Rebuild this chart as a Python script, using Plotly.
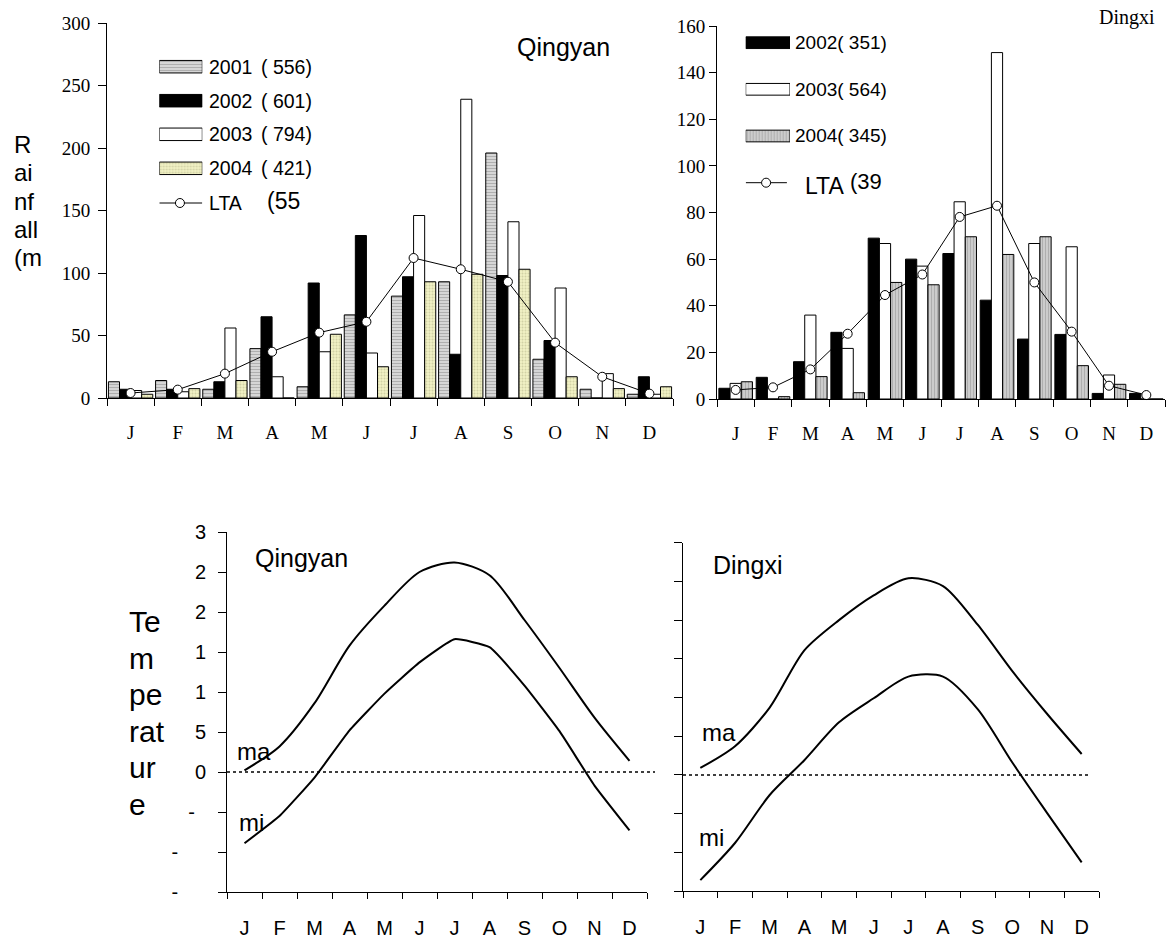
import plotly.graph_objects as go

W, H = 1173, 942

months = ["J", "F", "M", "A", "M", "J", "J", "A", "S", "O", "N", "D"]
mid = [i + 0.5 for i in range(12)]

# Monthly rainfall (mm), Qingyan
qy_2001 = [13, 14, 7, 39.5, 9, 66.5, 81.5, 93, 196, 31, 7, 3]
qy_2002 = [7, 7, 13, 65, 92, 130, 97, 35, 98, 46, 0, 17]
qy_2003 = [6, 5, 56, 17, 37, 36, 146, 239, 141, 88, 19.5, 3]
qy_2004 = [3, 7.5, 14, 0, 51, 25, 93, 99, 103, 17, 7.5, 9]
qy_lta = [4, 6.7, 19.5, 37, 52.3, 61, 112, 103, 93, 44.3, 17, 3.5]

# Monthly rainfall (mm), Dingxi
dx_2002 = [4.6, 9.3, 16, 28.6, 69, 60, 62.4, 42.4, 25.7, 27.7, 2.4, 2.4]
dx_2003 = [6.7, 0, 36, 21.7, 66.7, 57, 84.6, 148.6, 66.7, 65.3, 10.3, 0]
dx_2004 = [7.4, 1, 9.6, 2.7, 50, 49, 69.6, 62, 69.6, 14.3, 6.3, 0]
dx_lta = [3.9, 5, 12.7, 28, 44.6, 53.4, 78.1, 82.9, 50, 28.9, 5.7, 1.7]

# Monthly mean maximum / minimum temperature (deg C)
qy_tmax = [0.2, 3.2, 8.6, 15.8, 20.8, 25.0, 26.2, 24.6, 19.0, 13.0, 6.8, 1.4]
qy_tmin = [-8.9, -5.5, -0.7, 5.2, 9.8, 13.7, 16.6, 15.6, 10.8, 5.1, -1.7, -7.3]
dx_tmax = [0.9, 3.7, 8.7, 16.1, 20.0, 23.2, 25.4, 24.4, 19.4, 13.4, 7.9, 2.7]
dx_tmin = [-13.6, -8.8, -2.6, 1.9, 6.8, 9.9, 12.7, 12.7, 8.5, 1.6, -4.9, -11.3]

temp_ticks = [-15, -10, -5, 0, 5, 10, 15, 20, 25, 30]
temp_ticktext = ["-\u00a0\u00a0\u00a0\u00a0\u00a0", "-\u00a0\u00a0\u00a0\u00a0\u00a0", "-\u00a0\u00a0",
                 "0", "5", "1", "1", "2", "2", "3"]

SERIF = "Liberation Serif"
SANS = "Liberation Sans"


def px_x(p):
    return p / W


def px_y(p):
    return 1 - p / H


EDGE = dict(color="black", width=1)
STY = {
    "2001": dict(color="#c8c8c8", line=EDGE,
                 pattern=dict(shape="-", bgcolor="#e2e2e2", fgcolor="#7c7c7c", size=3, solidity=0.5)),
    "2002": dict(color="black", line=EDGE),
    "2003": dict(color="white", line=EDGE),
    "2004q": dict(color="#eeeec0", line=EDGE,
                  pattern=dict(shape=".", bgcolor="#f0f0c4", fgcolor="#b4b486", size=3, solidity=0.35)),
    "2004d": dict(color="#c8c8c8", line=EDGE,
                  pattern=dict(shape="|", bgcolor="#d6d6d6", fgcolor="#868686", size=3, solidity=0.5)),
}
LTA_MARKER = dict(symbol="circle", size=9, color="white", line=dict(color="black", width=1))

fig = go.Figure()

# ---- Qingyan rainfall ----
qw = 0.235
for vals, key, off in [(qy_2001, "2001", -0.47), (qy_2002, "2002", -0.235),
                       (qy_2003, "2003", 0.0), (qy_2004, "2004q", 0.235)]:
    fig.add_trace(go.Bar(x=mid, y=vals, width=qw, offset=off, marker=STY[key],
                         xaxis="x", yaxis="y", showlegend=False))
fig.add_trace(go.Scatter(x=mid, y=qy_lta, mode="lines+markers", line=dict(color="black", width=1),
                         marker=LTA_MARKER, cliponaxis=False, xaxis="x", yaxis="y", showlegend=False))

# ---- Dingxi rainfall ----
dw = 0.3
for vals, key, off in [(dx_2002, "2002", -0.45), (dx_2003, "2003", -0.15), (dx_2004, "2004d", 0.15)]:
    fig.add_trace(go.Bar(x=mid, y=vals, width=dw, offset=off, marker=STY[key],
                         xaxis="x2", yaxis="y2", showlegend=False))
fig.add_trace(go.Scatter(x=mid, y=dx_lta, mode="lines+markers", line=dict(color="black", width=1),
                         marker=LTA_MARKER, cliponaxis=False, xaxis="x2", yaxis="y2", showlegend=False))

# ---- temperature curves ----
for vals, ax, sm in [(qy_tmax, "3", 0.8), (qy_tmin, "3", 0.4), (dx_tmax, "4", 0.8), (dx_tmin, "4", 0.8)]:
    fig.add_trace(go.Scatter(x=mid, y=vals, mode="lines",
                             line=dict(color="black", width=2, shape="spline", smoothing=sm),
                             xaxis="x" + ax, yaxis="y" + ax, showlegend=False))

# ---- legend keys (small axes measured in pixels) ----
leg1_rows = [66.7, 100.7, 134.3, 168.3]
for key, yy in zip(["2001", "2002", "2003", "2004q"], leg1_rows):
    fig.add_trace(go.Bar(x=[1], y=[yy], base=0, orientation="h", width=12.5, marker=STY[key],
                         xaxis="x5", yaxis="y5", showlegend=False))
fig.add_trace(go.Scatter(x=[0, 1], y=[203, 203], mode="lines", line=dict(color="black", width=1),
                         xaxis="x5", yaxis="y5", showlegend=False))
fig.add_trace(go.Scatter(x=[0.48], y=[203], mode="markers", marker=LTA_MARKER,
                         xaxis="x5", yaxis="y5", showlegend=False))

leg2_rows = [42.7, 89.3, 136]
for key, yy in zip(["2002", "2003", "2004d"], leg2_rows):
    fig.add_trace(go.Bar(x=[1], y=[yy], base=0, orientation="h", width=11.7, marker=STY[key],
                         xaxis="x6", yaxis="y6", showlegend=False))
fig.add_trace(go.Scatter(x=[0, 0.93], y=[182.7, 182.7], mode="lines", line=dict(color="black", width=1),
                         xaxis="x6", yaxis="y6", showlegend=False))
fig.add_trace(go.Scatter(x=[0.46], y=[182.7], mode="markers", marker=LTA_MARKER,
                         xaxis="x6", yaxis="y6", showlegend=False))


def month_axis(dom, font, standoff, ticklen_minor):
    return dict(domain=dom, range=[0, 12], showline=True, linecolor="black", linewidth=1,
                showgrid=False, zeroline=False, tickmode="array", tickvals=mid, ticktext=months,
                ticks="outside", ticklen=0, tickcolor="rgba(0,0,0,0)", ticklabelstandoff=standoff,
                tickfont=font, fixedrange=True, automargin=False,
                minor=dict(tickmode="array", tickvals=list(range(13)), ticks="outside",
                           ticklen=ticklen_minor, tickcolor="black", tickwidth=1, showgrid=False))


serif19 = dict(family=SERIF, size=19, color="black")
sans20 = dict(family=SANS, size=20, color="black")

layout = dict(
    width=W, height=H, margin=dict(l=0, r=0, t=0, b=0, pad=0, autoexpand=False),
    paper_bgcolor="white", plot_bgcolor="rgba(0,0,0,0)",
    barmode="overlay", showlegend=False,
    xaxis=month_axis([px_x(107), px_x(673)], serif19, 17, 7) | dict(anchor="y"),
    yaxis=dict(domain=[px_y(398), px_y(23)], range=[0, 300], tickmode="linear", tick0=0, dtick=50,
               showline=True, linecolor="black", linewidth=1, showgrid=False, zeroline=False,
               ticks="outside", ticklen=8, tickcolor="black", tickfont=serif19, ticklabelstandoff=4,
               anchor="x", fixedrange=True, automargin=False),
    xaxis2=month_axis([px_x(717), px_x(1165)], serif19, 17, 7) | dict(anchor="y2"),
    yaxis2=dict(domain=[px_y(399), px_y(26)], range=[0, 160], tickmode="linear", tick0=0, dtick=20,
                showline=True, linecolor="black", linewidth=1, showgrid=False, zeroline=False,
                ticks="outside", ticklen=7, tickcolor="black", tickfont=serif19, ticklabelstandoff=0,
                anchor="x2", fixedrange=True, automargin=False),
    xaxis3=month_axis([px_x(227), px_x(647)], sans20, 18, 6) | dict(anchor="y3"),
    yaxis3=dict(domain=[px_y(892), px_y(532)], range=[-15, 30], tickmode="array", tickvals=temp_ticks,
                ticktext=temp_ticktext, showline=True, linecolor="black", linewidth=1, showgrid=False,
                zeroline=False, ticks="outside", ticklen=8, tickcolor="black", tickfont=sans20,
                ticklabelstandoff=8, anchor="x3", fixedrange=True, automargin=False),
    xaxis4=month_axis([px_x(683), px_x(1099)], sans20, 18, 6) | dict(anchor="y4"),
    yaxis4=dict(domain=[px_y(891), px_y(542.7)], range=[-15, 30], tickmode="array", tickvals=temp_ticks,
                showticklabels=False, showline=True, linecolor="black", linewidth=1, showgrid=False,
                zeroline=False, ticks="outside", ticklen=8, tickcolor="black", anchor="x4", fixedrange=True,
                automargin=False),
    xaxis5=dict(domain=[px_x(159.3), px_x(202.3)], range=[0, 1], visible=False, anchor="y5", fixedrange=True),
    yaxis5=dict(domain=[px_y(225), px_y(45)], range=[225, 45], visible=False, anchor="x5", fixedrange=True),
    xaxis6=dict(domain=[px_x(745.7), px_x(790)], range=[0, 1], visible=False, anchor="y6", fixedrange=True),
    yaxis6=dict(domain=[px_y(200), px_y(25)], range=[200, 25], visible=False, anchor="x6", fixedrange=True),
)
fig.update_layout(**layout)

# zero reference lines on the temperature panels
fig.add_shape(type="line", xref="x3 domain", yref="y3", x0=0, x1=(655 - 227) / 420, y0=0, y1=0,
              line=dict(color="black", width=1.5, dash="dot"))
fig.add_shape(type="line", xref="x4 domain", yref="y4", x0=0, x1=(1088 - 683) / 416, y0=0, y1=0,
              line=dict(color="black", width=1.5, dash="dot"))


def text(s, x, y, size, family=SANS, xanchor="left"):
    fig.add_annotation(text=s, x=px_x(x), y=px_y(y), xref="paper", yref="paper", showarrow=False,
                       xanchor=xanchor, yanchor="middle", font=dict(family=family, size=size, color="black"))


# legend labels, Qingyan
for lab, tot, yy in zip(["2001", "2002", "2003", "2004"], ["( 556)", "( 601)", "( 794)", "( 421)"], leg1_rows):
    text(lab, 207, yy, 19.5)
    text(tot, 314, yy, 19.5, xanchor="right")
text("LTA", 207, 203, 19.5)
text("(55", 265, 201, 23)

# legend labels, Dingxi
for lab, yy in zip(["2002( 351)", "2003( 564)", "2004( 345)"], leg2_rows):
    text(lab, 792.7, yy, 19)
text("LTA", 803, 185.5, 23)
text("(39", 848, 182, 22)

# panel titles
text("Qingyan", 515, 46.5, 25)
text("Dingxi", 1097, 17.5, 20, family=SERIF)
text("Qingyan", 253, 558, 25)
text("Dingxi", 711, 565, 25)

# curve tags
text("ma", 235, 751, 24)
text("mi", 237, 822, 24)
text("ma", 700, 732, 24)
text("mi", 697, 837, 24)

# stacked axis titles
for i, s in enumerate(["R", "ai", "nf", "all", "(m"]):
    text(s, 12, 144.7 + 28.3 * i, 24)
for i, s in enumerate(["Te", "m", "pe", "rat", "ur", "e"]):
    text(s, 127, 621.6 + 36.5 * i, 30)

fig.write_html("out.html")
